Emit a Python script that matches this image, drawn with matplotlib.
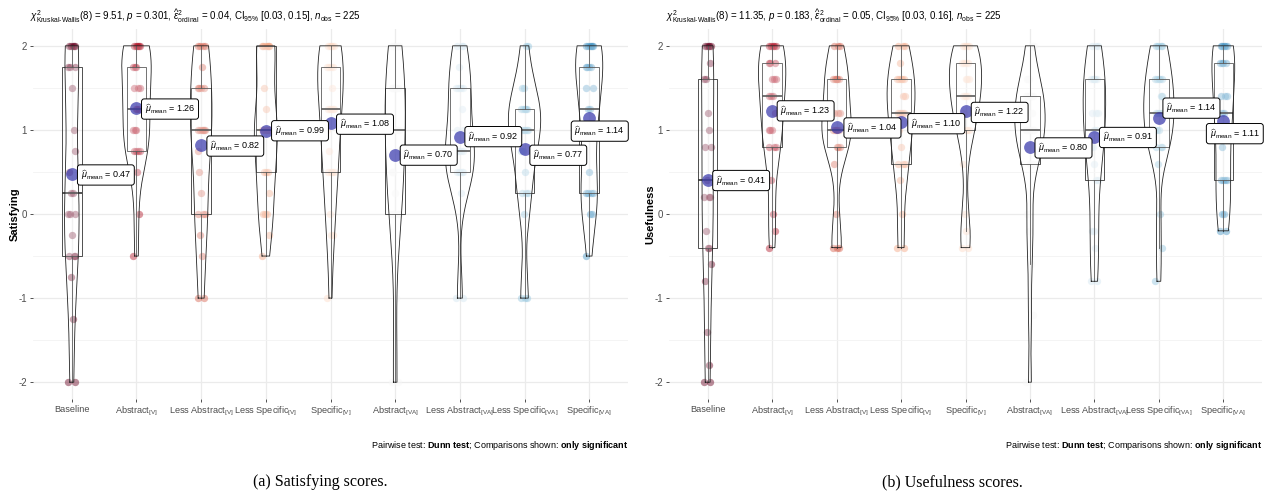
import numpy as np
import matplotlib
matplotlib.use('Agg')
import matplotlib.pyplot as plt
from matplotlib.ticker import FixedLocator

plt.rcParams['font.family'] = ['Liberation Sans', 'DejaVu Sans']
plt.rcParams['mathtext.fontset'] = 'custom'
plt.rcParams['mathtext.rm'] = 'Liberation Sans'
plt.rcParams['mathtext.it'] = 'Liberation Sans:italic'
plt.rcParams['mathtext.bf'] = 'Liberation Sans:bold'
plt.rcParams['axes.unicode_minus'] = False

# conditions on the x axis
conditions = ['Baseline',
              r'Abstract$_{\mathrm{[V]}}$', r'Less Abstract$_{\mathrm{[V]}}$',
              r'Less Specific$_{\mathrm{[V]}}$', r'Specific$_{\mathrm{[V]}}$',
              r'Abstract$_{\mathrm{[VA]}}$', r'Less Abstract$_{\mathrm{[VA]}}$',
              r'Less Specific$_{\mathrm{[VA]}}$', r'Specific$_{\mathrm{[VA]}}$']

# satisfying scores (mean of 4 items, -2..2)
sat_baseline = [-2, -2, -1.25, -0.75, -0.5, -0.5, -0.5, -0.25, 0, 0, 0, 0.25, 0.25, 0.5, 0.75, 1, 1.5, 1.75, 1.75, 1.75, 2, 2, 2, 2, 2]
sat_abstract_v = [-0.5, 0, 0.5, 0.75, 0.75, 0.75, 0.75, 1, 1, 1, 1.25, 1.25, 1.25, 1.5, 1.5, 1.5, 1.75, 1.75, 1.75, 2, 2, 2, 2, 2, 2]
sat_less_abstract_v = [-1, -1, -0.5, -0.25, 0, 0, 0, 0.25, 0.5, 0.75, 1, 1, 1, 1, 1, 1, 1.5, 1.5, 1.5, 1.5, 1.75, 2, 2, 2, 2]
sat_less_specific_v = [-0.5, -0.25, 0, 0, 0, 0.25, 0.5, 0.5, 0.5, 1, 1, 1, 1, 1, 1, 1, 1.25, 1.5, 2, 2, 2, 2, 2, 2, 2]
sat_specific_v = [-1, -0.25, -0.25, 0, 0.5, 0.5, 0.5, 0.5, 0.75, 1, 1.25, 1.25, 1.25, 1.25, 1.25, 1.5, 1.75, 1.75, 1.75, 1.75, 2, 2, 2, 2, 2]
sat_abstract_va = [-2, -2, -1, 0, 0, 0, 0, 0.25, 0.5, 0.5, 0.75, 1, 1, 1, 1, 1, 1.5, 1.5, 1.5, 1.5, 1.5, 2, 2, 2, 2]
sat_less_abstract_va = [-1, -1, 0.25, 0.5, 0.5, 0.5, 0.5, 0.5, 0.75, 0.75, 0.75, 0.75, 0.75, 1, 1, 1.25, 1.5, 1.5, 1.5, 1.5, 1.5, 1.75, 2, 2, 2]
sat_less_specific_va = [-1, -1, -1, 0, 0.25, 0.25, 0.25, 0.5, 0.75, 0.75, 1, 1, 1, 1, 1, 1.25, 1.25, 1.25, 1.25, 1.25, 1.25, 1.5, 1.5, 2, 2]
sat_specific_va = [-0.5, 0, 0, 0.25, 0.25, 0.25, 0.25, 0.5, 1, 1, 1, 1.25, 1.25, 1.5, 1.5, 1.75, 1.75, 1.75, 1.75, 2, 2, 2, 2, 2, 2]
sat_means = [0.47, 1.26, 0.82, 0.99, 1.08, 0.70, 0.92, 0.77, 1.14]

# usefulness scores (mean of 5 items, -2..2)
use_baseline = [-2, -2, -1.8, -1.4, -0.8, -0.6, -0.4, -0.4, -0.2, 0.2, 0.2, 0.2, 0.4, 0.8, 0.8, 1, 1.2, 1.6, 1.6, 1.8, 2, 2, 2, 2, 2]
use_abstract_v = [-0.4, -0.2, 0, 0.4, 0.8, 0.8, 0.8, 1, 1, 1, 1.2, 1.4, 1.4, 1.4, 1.6, 1.6, 1.6, 1.8, 1.8, 1.8, 2, 2, 2, 2, 2]
use_less_abstract_v = [-0.4, -0.4, -0.4, 0, 0.6, 0.8, 0.8, 0.8, 1, 1, 1, 1, 1, 1.2, 1.2, 1.2, 1.6, 1.6, 1.6, 1.6, 1.6, 1.6, 2, 2, 2]
use_less_specific_v = [-0.4, -0.4, 0, 0.4, 0.6, 0.6, 0.6, 0.8, 1, 1, 1.2, 1.2, 1.2, 1.2, 1.4, 1.4, 1.6, 1.6, 1.6, 1.6, 1.6, 1.8, 2, 2, 2]
use_specific_v = [-0.4, -0.4, -0.2, 0, 0.6, 1, 1, 1, 1.2, 1.2, 1.4, 1.4, 1.4, 1.4, 1.6, 1.6, 1.6, 1.8, 1.8, 1.8, 1.8, 2, 2, 2, 2]
use_abstract_va = [-2, -1.2, -0.6, -0.2, 0, 0.6, 0.6, 0.6, 0.8, 1, 1, 1, 1, 1, 1, 1.2, 1.4, 1.4, 1.4, 1.4, 1.4, 1.6, 1.6, 2, 2]
use_less_abstract_va = [-0.8, -0.8, -0.4, -0.2, -0.2, 0.4, 0.4, 0.6, 0.8, 0.8, 1, 1, 1, 1.2, 1.2, 1.2, 1.6, 1.6, 1.6, 1.6, 1.6, 1.6, 2, 2, 2]
use_less_specific_va = [-0.8, -0.4, 0, 0.6, 0.8, 0.8, 0.8, 1, 1, 1, 1.2, 1.2, 1.2, 1.2, 1.4, 1.4, 1.6, 1.6, 1.6, 1.6, 1.6, 2, 2, 2, 2]
use_specific_va = [-0.2, -0.2, 0, 0, 0.4, 0.4, 0.4, 0.4, 0.8, 1, 1, 1.2, 1.2, 1.4, 1.4, 1.4, 1.8, 1.8, 1.8, 1.8, 2, 2, 2, 2, 2]
use_means = [0.41, 1.23, 1.04, 1.10, 1.22, 0.80, 0.91, 1.14, 1.11]

sat_groups = [sat_baseline, sat_abstract_v, sat_less_abstract_v, sat_less_specific_v, sat_specific_v,
              sat_abstract_va, sat_less_abstract_va, sat_less_specific_va, sat_specific_va]
use_groups = [use_baseline, use_abstract_v, use_less_abstract_v, use_less_specific_v, use_specific_v,
              use_abstract_va, use_less_abstract_va, use_less_specific_va, use_specific_va]

# RdBu palette, one colour per condition
palette = ['#67001F', '#B2182B', '#D6604D', '#F4A582', '#FDDBC7',
           '#F7F7F7', '#D1E5F0', '#92C5DE', '#4393C3']

# label box placement in pixels: (left edge from point, vertical shift down)
sat_label_px = [(5.6, 0.5), (5, 1), (5.7, 1), (5.7, 0), (6, 1), (5, 0), (5, 0), (5.3, 6), (-18, 13)]
use_label_px = [(5, 1), (5, 0.3), (7.3, 1.4), (6.7, 2.2), (5.7, 1), (5, 1.2), (5, 0), (4, -10), (-17, 13)]


def bw_nrd0(x):
    sd = x.std(ddof=1)
    q1, q3 = np.percentile(x, [25, 75])
    lo = min(sd, (q3 - q1) / 1.34)
    if lo == 0:
        lo = sd if sd > 0 else 1.0
    return 0.9 * lo * len(x) ** -0.2


def density(x):
    x = np.asarray(x, float)
    bw = bw_nrd0(x)
    grid = np.linspace(x.min(), x.max(), 512)
    z = (grid[:, None] - x[None, :]) / bw
    d = np.exp(-0.5 * z ** 2).sum(axis=1) / (len(x) * bw * np.sqrt(2 * np.pi))
    return grid, d


def draw_panel(ax, groups, means, ylabel, label_px):
    pos = np.arange(1, len(groups) + 1)

    # jittered raw points
    for p, vals, col in zip(pos, groups, palette):
        n = len(vals)
        jit = ((np.arange(n) * 7) % 9 - 4) * 0.014
        ax.scatter(p + jit, vals, s=28, color=col, alpha=0.45, lw=0, zorder=2)

    # boxplots without outliers
    ax.boxplot(groups, positions=pos, widths=0.3, showfliers=False, showcaps=False,
               patch_artist=True, manage_ticks=False,
               boxprops=dict(facecolor=(1, 1, 1, 0.2), edgecolor='#333333', lw=0.6),
               medianprops=dict(color='#333333', lw=1.2),
               whiskerprops=dict(color='#333333', lw=0.6), zorder=3)

    # violins, scaled by area across the panel
    curves = [density(g) for g in groups]
    dmax = max(d.max() for _, d in curves)
    for p, (grid, d) in zip(pos, curves):
        half = 0.25 * d / dmax
        xs = np.concatenate([p - half, (p + half)[::-1]])
        ys = np.concatenate([grid, grid[::-1]])
        ax.fill(xs, ys, facecolor='white', alpha=0.2, lw=0, zorder=4)
        ax.plot(np.append(xs, xs[0]), np.append(ys, ys[0]), color='#222222', lw=0.6, zorder=4)

    # group means with labels
    ax.scatter(pos, means, s=85, color='#3333aa', alpha=0.7, lw=0, zorder=5)
    for p, m, (dx, dy) in zip(pos, means, label_px):
        ax.annotate(r'$\widehat{\mu}_{\mathrm{mean}}$' + ' = {:.2f}'.format(m),
                    xy=(p, m), xytext=((dx + 3.2) * 0.72, -dy * 0.72),
                    textcoords='offset points', ha='left', va='center', fontsize=6.5,
                    bbox=dict(boxstyle='round,pad=0.35,rounding_size=0.3',
                              fc='white', ec='black', lw=0.7), zorder=6)

    ax.set_xlim(0.4, len(groups) + 0.6)
    ax.set_ylim(-2.2, 2.2)
    ax.set_xticks(pos)
    ax.set_xticklabels(conditions, fontsize=6.6)
    ax.set_yticks([-2, -1, 0, 1, 2])
    ax.yaxis.set_minor_locator(FixedLocator([-1.5, -0.5, 0.5, 1.5]))
    ax.tick_params(which='major', length=2.5, width=0.6, color='#333333',
                   labelsize=7, labelcolor='#4d4d4d', pad=2)
    ax.tick_params(axis='x', labelsize=6.6)
    ax.tick_params(which='minor', length=0)
    ax.grid(which='major', color='#ebebeb', lw=0.9)
    ax.grid(which='minor', axis='y', color='#f3f3f3', lw=0.6)
    ax.set_axisbelow(True)
    for s in ax.spines.values():
        s.set_visible(False)
    ax.set_ylabel(ylabel, fontsize=8, fontweight='bold', labelpad=-1)


fig = plt.figure(figsize=(12.64, 4.99), dpi=100)
ax_sat = fig.add_axes([33 / 1264, 100 / 499, 595 / 1264, 370 / 499])
ax_use = fig.add_axes([669 / 1264, 100 / 499, 593 / 1264, 370 / 499])

draw_panel(ax_sat, sat_groups, sat_means, 'Satisfying', sat_label_px)
draw_panel(ax_use, use_groups, use_means, 'Usefulness', use_label_px)

sub_sat = (r'$\chi^2_{\mathrm{Kruskal\text{-}Wallis}}$(8) = 9.51, $\mathit{p}$ = 0.301, '
           r'$\widehat{\varepsilon}^2_{\mathrm{ordinal}}$ = 0.04, CI$_{95\%}$ [0.03, 0.15], '
           r'$\mathit{n}_{\mathrm{obs}}$ = 225')
sub_use = (r'$\chi^2_{\mathrm{Kruskal\text{-}Wallis}}$(8) = 11.35, $\mathit{p}$ = 0.183, '
           r'$\widehat{\varepsilon}^2_{\mathrm{ordinal}}$ = 0.05, CI$_{95\%}$ [0.03, 0.16], '
           r'$\mathit{n}_{\mathrm{obs}}$ = 225')
fig.text(30 / 1264, 1 - 16 / 499, sub_sat, fontsize=7, va='center', ha='left')
fig.text(666 / 1264, 1 - 16 / 499, sub_use, fontsize=7, va='center', ha='left')

footer = r'Pairwise test: $\mathbf{Dunn\ test}$; Comparisons shown: $\mathbf{only\ significant}$'
fig.text(628 / 1264, 1 - 445 / 499, footer, fontsize=6.5, ha='right', va='center')
fig.text(1262 / 1264, 1 - 445 / 499, footer, fontsize=6.5, ha='right', va='center')

fig.text(320 / 1264, 1 - 482 / 499, '(a) Satisfying scores.', family='Liberation Serif',
         fontsize=11.5, ha='center', va='center')
fig.text(952 / 1264, 1 - 482 / 499, '(b) Usefulness scores.', family='Liberation Serif',
         fontsize=11.5, ha='center', va='center')

fig.savefig('out.png', dpi=100)
